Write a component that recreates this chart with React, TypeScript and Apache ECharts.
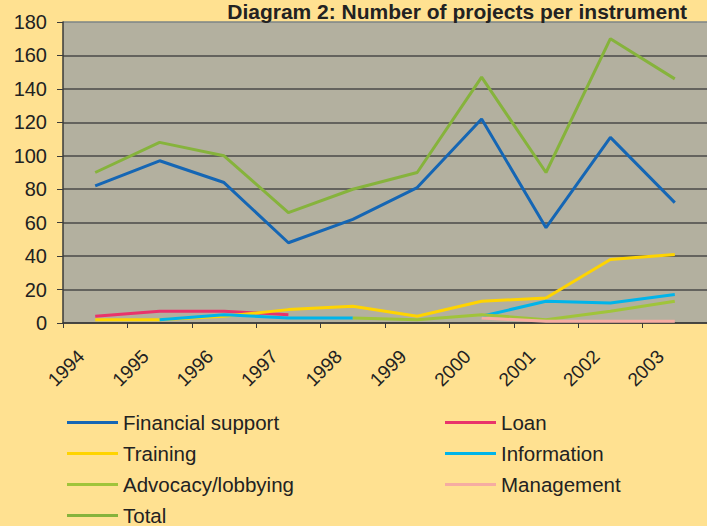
import React, { useEffect, useRef } from "react";
import * as echarts from "echarts";

const years = ["1994", "1995", "1996", "1997", "1998", "1999", "2000", "2001", "2002", "2003"];
const financialSupport = [82, 97, 84, 48, 62, 81, 122, 57, 111, 72];
const loan = [4, 7, 7, 5, null, null, null, null, null, null];
const training = [2, 2, 4, 8, 10, 4, 13, 15, 38, 41];
const information = [null, 2, 5, 3, 3, null, 4, 13, 12, 17];
const advocacy = [null, null, null, null, 3, 2, 5, 2, 7, 13];
const management = [null, null, null, null, null, null, 3, 1, 1, 1];
const total = [90, 108, 100, 66, 80, 90, 147, 90, 170, 146];

const seriesNames = ["Financial support", "Loan", "Training", "Information", "Advocacy/lobbying", "Management", "Total"];
const seriesData = [financialSupport, loan, training, information, advocacy, management, total];
const seriesColors = ["#1566B4", "#E9336B", "#FFD400", "#00B4EA", "#A0C43A", "#F6ACA2", "#86B33C"];
const legendLeft = ["Financial support", "Training", "Advocacy/lobbying", "Total"];
const legendRight = ["Loan", "Information", "Management"];
const yTicks = { min: 0, max: 180, interval: 20 };
const title = "Diagram 2: Number of projects per instrument";

const FONT = "'Liberation Sans', Arial, sans-serif";

export default function App() {
  const ref = useRef<HTMLDivElement>(null);
  useEffect(() => {
    if (!ref.current) return;
    const chart = echarts.init(ref.current, undefined, { renderer: "svg" });
    const splitColors = ["#4a4a48", "#4a4a48", "#4a4a48", "#4a4a48", "#4a4a48", "#4a4a48", "#4a4a48", "#4a4a48", "#4a4a48", "#7d8486"];
    const legendCommon = {
      orient: "vertical",
      top: 412,
      height: 130,
      padding: 0,
      itemWidth: 51,
      itemHeight: 3,
      itemGap: 10,
      icon: "rect",
      textStyle: { fontFamily: FONT, fontSize: 20.5, color: "#222", lineHeight: 20 },
    };
    chart.setOption({
      animation: false,
      backgroundColor: "#FFE191",
      textStyle: { fontFamily: FONT },
      title: {
        text: title,
        right: 15,
        top: -4,
        textStyle: { fontFamily: FONT, fontSize: 21, fontWeight: "bold", color: "#222" },
      },
      grid: {
        left: 63,
        top: 22,
        right: -6,
        bottom: 203,
        show: true,
        backgroundColor: "#B3B09F",
        borderWidth: 0,
      },
      legend: [
        { ...legendCommon, left: 67, data: legendLeft },
        { ...legendCommon, left: 445, data: legendRight },
      ],
      xAxis: {
        type: "category",
        data: years,
        boundaryGap: true,
        axisLine: { show: true, lineStyle: { color: "#3a3a3a", width: 1.5 } },
        axisTick: { show: true, length: 5, lineStyle: { color: "#3a3a3a" } },
        axisLabel: {
          rotate: 45,
          interval: 0,
          margin: 16,
          padding: [0, 20, 0, 0],
          fontFamily: FONT,
          fontSize: 19,
          color: "#222",
        },
        splitLine: { show: false },
      },
      yAxis: {
        type: "value",
        min: yTicks.min,
        max: yTicks.max,
        interval: yTicks.interval,
        axisLine: { show: true, lineStyle: { color: "#3a3a3a", width: 1.5 } },
        axisTick: { show: true, length: 6, lineStyle: { color: "#3a3a3a" } },
        axisLabel: { margin: 16, fontFamily: FONT, fontSize: 20, color: "#222" },
        splitLine: { show: true, lineStyle: { color: splitColors, width: 1.5 } },
      },
      series: seriesNames.map((name, i) => ({
        name,
        type: "line",
        data: seriesData[i],
        showSymbol: false,
        symbol: "none",
        connectNulls: false,
        color: seriesColors[i],
        lineStyle: { color: seriesColors[i], width: 3 },
      })),
    });
    return () => chart.dispose();
  }, []);
  return <div ref={ref} style={{ position: "fixed", left: 0, top: 0, width: 707, height: 526 }} />;
}
